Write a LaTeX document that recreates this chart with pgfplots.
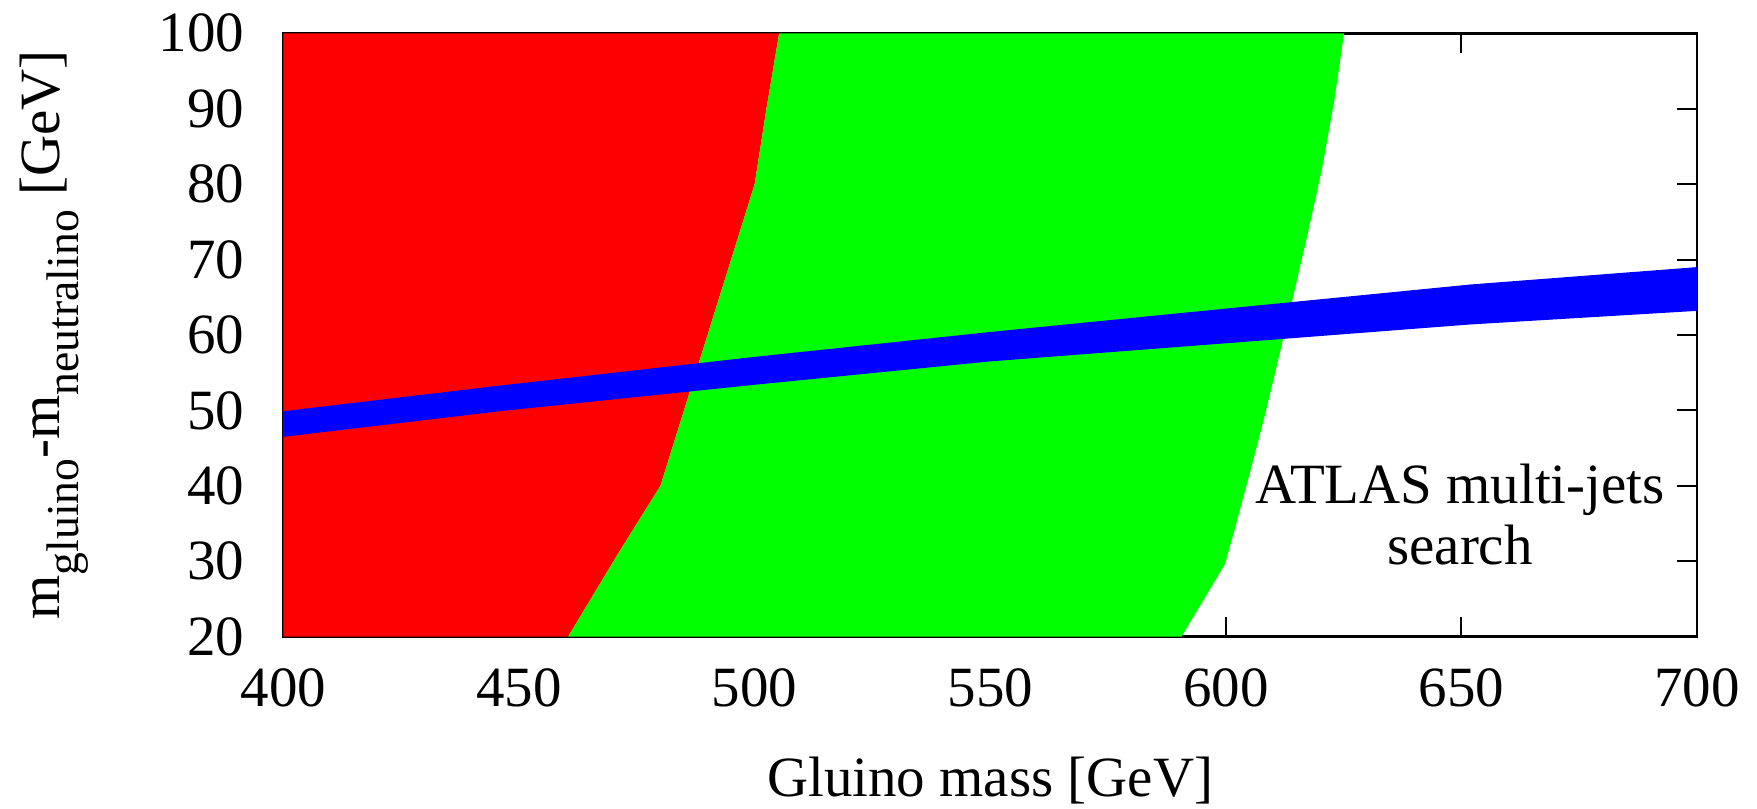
\documentclass[border=0pt]{standalone}
\usepackage{fontspec}
\setmainfont{Liberation Serif}
\usepackage{pgfplots}
\pgfplotsset{compat=1.18}
\definecolor{pured}{RGB}{255,0,0}
\definecolor{pugreen}{RGB}{0,255,0}
\definecolor{publue}{RGB}{0,0,255}
\newcommand{\sub}[1]{\raisebox{-5.4pt}{\fontsize{13}{15}\selectfont #1}}
\begin{document}
\fontsize{16.2}{19.4}\selectfont
\begin{tikzpicture}
\begin{axis}[
  scale only axis,
  width=14.135cm, height=6.034cm,
  xmin=400, xmax=700, ymin=20, ymax=100,
  xtick={400,450,...,700}, ytick={20,30,...,100},
  tick align=inside,
  major tick length=0.2cm,
  every tick/.style={black, line width=0.6pt},
  axis line style={line width=0.8pt},
  /pgf/number format/assume math mode=true,
  xticklabel style={yshift=-0.12cm},
  yticklabel style={xshift=-0.195cm},
  xlabel={Gluino mass [GeV]},
  xlabel style={at={(axis description cs:0.5,-0.2652)}, anchor=base},
  ylabel={m\sub{gluino}-m\sub{neutralino} [GeV]},
  ylabel style={at={(axis description cs:-0.1585,0.5)}, anchor=base},
]
% excluded region (red)
\addplot[draw=none, fill=pured] coordinates {
  (400,20) (460.4,20) (471,31) (480,40) (500,80) (502.5,90) (505.2,100) (400,100)
} -- cycle;
% green region
\addplot[draw=none, fill=pugreen] coordinates {
  (460.4,20) (471,31) (480,40) (500,80) (502.5,90) (505.2,100)
  (625.1,100) (623,91) (620.4,82) (617.4,73.5) (614.3,65.1) (611.3,57.2)
  (608.3,49.4) (605,41.5) (601.6,33.6) (599.8,29.6) (590.6,20)
} -- cycle;
% blue band
\addplot[draw=none, fill=publue] coordinates {
  (400,46.5) (446,49.9) (500,53.4) (550,56.5) (600,58.9) (652,61.4) (700,63.2)
  (700,69.0) (652,66.7) (600,63.5) (550,60.4) (500,57.1) (446,53.3) (400,49.9)
} -- cycle;
\node[anchor=base] at (axis cs:649.7,37.7) {ATLAS multi-jets};
\node[anchor=base] at (axis cs:649.7,29.6) {search};
\end{axis}
\pgfresetboundingbox
\path (-2.835,-1.723) rectangle (14.735,6.367);
\end{tikzpicture}
\end{document}
